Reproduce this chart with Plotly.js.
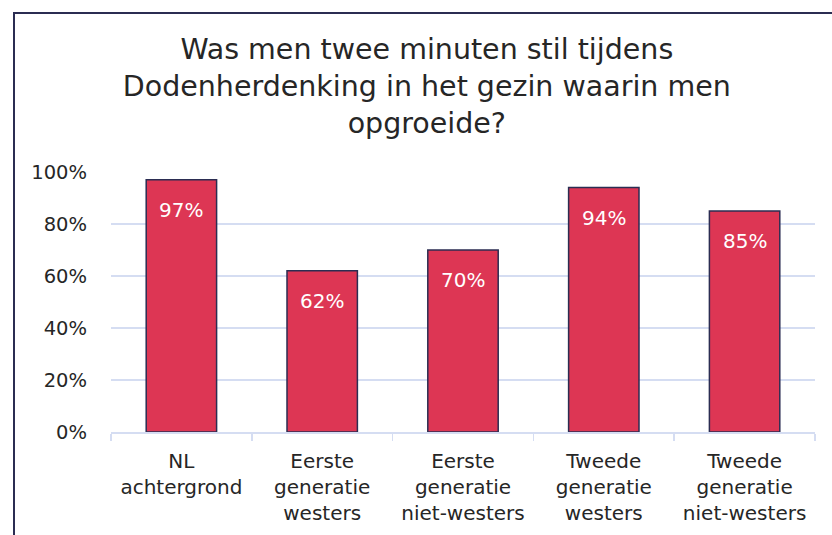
<!DOCTYPE html>
<html>
<head>
<meta charset="utf-8">
<script src="https://cdn.plot.ly/plotly-3.0.1.min.js"></script>
<style>
  html, body { margin: 0; padding: 0; background: #fff; }
  #plot { position: absolute; left: 0; top: 0; width: 832px; height: 535px; }
  /* chart frame, only top and left edge are inside the picture */
  #frame { position: absolute; left: 13px; top: 12px; width: 840px; height: 540px;
           border-left: 2px solid #2b2d52; border-top: 2px solid #2b2d52; pointer-events: none; }
</style>
</head>
<body>
<div id="plot"></div>
<div id="frame"></div>
<script>
// categories and values
const categories = [
  'NL<br>achtergrond',
  'Eerste<br>generatie<br>westers',
  'Eerste<br>generatie<br>niet-westers',
  'Tweede<br>generatie<br>westers',
  'Tweede<br>generatie<br>niet-westers'
];
const shares = [0.97, 0.62, 0.70, 0.94, 0.85];
const shareLabels = ['97%', '62%', '70%', '94%', '85%'];

const fontFamily = '"DejaVu Sans", sans-serif';
const textColor = '#262626';
const gridColor = '#d5ddf2';

const trace = {
  type: 'bar',
  x: categories,
  y: shares,
  marker: { color: '#dd3654', line: { color: '#2b2d52', width: 1.5 } },
  hoverinfo: 'skip'
};

// value labels, white, just below the top of each bar
const annotations = categories.map((c, i) => ({
  x: c, y: shares[i], xref: 'x', yref: 'y',
  text: shareLabels[i], showarrow: false,
  yanchor: 'middle', yshift: -30,
  font: { family: fontFamily, size: 20, color: '#ffffff' }
}));

const layout = {
  width: 832, height: 535,
  margin: { l: 111, r: 17, t: 172, b: 103 },
  paper_bgcolor: '#ffffff', plot_bgcolor: '#ffffff',
  bargap: 0.5,
  showlegend: false,
  title: {
    text: 'Was men twee minuten stil tijdens<br>Dodenherdenking in het gezin waarin men<br>opgroeide?',
    font: { family: fontFamily, size: 28.5, color: textColor },
    x: 0.513, xanchor: 'center', y: 0.89, yanchor: 'top'
  },
  font: { family: fontFamily, color: textColor },
  xaxis: {
    tickson: 'boundaries', ticks: 'outside', ticklen: 7, tickwidth: 1.5, tickcolor: gridColor,
    showline: true, linecolor: gridColor, linewidth: 1.5,
    ticklabelstandoff: 10,
    tickfont: { family: fontFamily, size: 20, color: textColor },
    fixedrange: true
  },
  yaxis: {
    range: [0, 1], dtick: 0.2, tickformat: '.0%',
    showgrid: true, gridcolor: gridColor, gridwidth: 1.5,
    zeroline: false, showline: false,
    ticklabelstandoff: 23,
    tickfont: { family: fontFamily, size: 19.5, color: textColor },
    fixedrange: true
  },
  annotations: annotations
};

Plotly.newPlot('plot', [trace], layout, { displayModeBar: false, staticPlot: true });
</script>
</body>
</html>
